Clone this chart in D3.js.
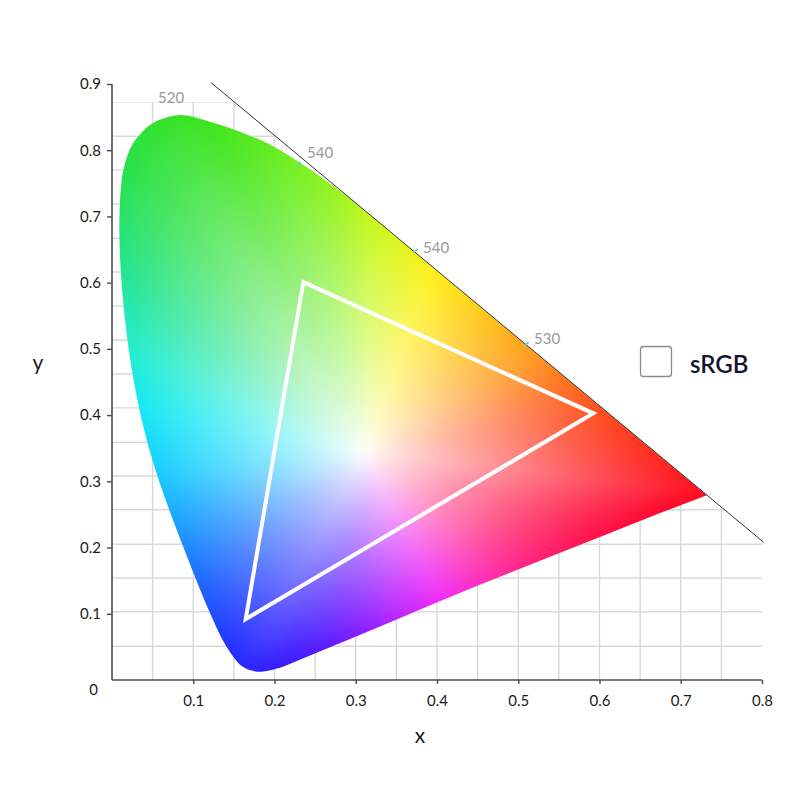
<!DOCTYPE html>
<html>
<head>
<meta charset="utf-8">
<script src="https://cdn.jsdelivr.net/npm/d3@7"></script>
<style>
  html, body { margin: 0; padding: 0; background: #fff; }
  svg { display: block; font-family: Lato, "Noto Sans", sans-serif; }
</style>
</head>
<body>
<svg id="chart" width="800" height="800"></svg>
<script>
// ---------- data ----------
const xTicks = [0.1, 0.2, 0.3, 0.4, 0.5, 0.6, 0.7, 0.8];
const yTicks = [0.1, 0.2, 0.3, 0.4, 0.5, 0.6, 0.7, 0.8, 0.9];
const xTickLabels = ["0.1", "0.2", "0.3", "0.4", "0.5", "0.6", "0.7", "0.8"];
const yTickLabels = ["0.1", "0.2", "0.3", "0.4", "0.5", "0.6", "0.7", "0.8", "0.9"];

// background grid (vertical at x, horizontal at y)
const gridX = [0.05, 0.1, 0.15, 0.2, 0.25, 0.3, 0.35, 0.4, 0.45, 0.5, 0.55, 0.6, 0.65, 0.7, 0.75];
const gridY = [0.051, 0.103, 0.154, 0.205, 0.257, 0.308, 0.359, 0.411, 0.462, 0.513,
               0.565, 0.616, 0.667, 0.719, 0.770, 0.821, 0.873];

// spectral locus: curved arc (bottom -> left side -> top -> meeting the diagonal)
const locusArcX = [0.2105, 0.182, 0.1616, 0.1412, 0.1210, 0.1040, 0.0880, 0.0725, 0.0580, 0.0455,
                   0.0352, 0.0270, 0.0205, 0.0155, 0.0118, 0.0095, 0.0092, 0.0115, 0.0160, 0.0258,
                   0.0468, 0.0652, 0.0858, 0.1206, 0.1575, 0.1982, 0.2314, 0.2600, 0.2889, 0.3175];
const locusArcY = [0.0201, 0.0125, 0.0196, 0.0500, 0.1000, 0.1500, 0.2000, 0.2500, 0.3000, 0.3500,
                   0.4000, 0.4500, 0.5000, 0.5500, 0.6000, 0.6500, 0.7000, 0.7500, 0.7800, 0.8100,
                   0.8381, 0.8487, 0.8532, 0.8431, 0.8280, 0.8060, 0.7810, 0.7570, 0.7310, 0.7025];
// straight edge to the red end, then the purple line back to the start
const locusEdgeX = [0.732, 0.6745, 0.6006, 0.5391, 0.5022, 0.4489, 0.3996, 0.3504, 0.3012, 0.2519];
const locusEdgeY = [0.279, 0.2520, 0.2160, 0.1860, 0.1680, 0.1420, 0.1170, 0.0915, 0.0660, 0.0410];

// white point of the colour fill
const whiteX = 0.311, whiteY = 0.340;
// boundary colour by direction from the white point (degrees, counter-clockwise from +x)
const hueAngles = [0, 12, 30, 50, 70, 88, 102, 115, 128, 142, 155, 168, 185, 200, 218, 235,
                   248, 262, 280, 298, 315, 330, 342, 352, 360];
const hueColors = ["#ff2a1c", "#ff521e", "#ff981c", "#ffc81a", "#fff01c", "#c8f81c", "#7af020",
                   "#3ce41a", "#28e040", "#22e48c", "#22eccc", "#16e8f4", "#18ccff", "#1aa0ff",
                   "#1c66ff", "#2030ff", "#3418ff", "#6a18ff", "#b424ff", "#f02cf6", "#ff2cb0",
                   "#ff1c70", "#ff0c44", "#ff0622", "#ff2a1c"];

// diagonal reference line
const diagX = [0.122, 0.802];
const diagY = [0.902, 0.208];

// "sRGB" triangle
const srgbX = [0.2355, 0.5924, 0.1646];
const srgbY = [0.6009, 0.4027, 0.0921];

// wavelength labels and their marks on the diagonal
const wlLabels = ["520", "540", "540", "530"];
const wlLabelX = [0.0566, 0.240, 0.3828, 0.5194];
const wlLabelY = [0.871, 0.788, 0.6448, 0.5074];
const wlMarkX = [0.2314, 0.375, 0.5116];
const wlMarkY = [0.7804, 0.6493, 0.5084];

const legendLabel = "sRGB";

// ---------- scales ----------
const svg = d3.select("#chart");
const x = d3.scaleLinear().domain([0, 0.8]).range([112, 762]);
const y = d3.scaleLinear().domain([0, 0.9]).range([680, 84]);

const defs = svg.append("defs");

// grid clip: below the diagonal line
const slope = (diagY[1] - diagY[0]) / (diagX[1] - diagX[0]);
const topY = d3.max(gridY);
const xAtTop = diagX[0] + (topY - diagY[0]) / slope;
const gridClip = [[0, 0], [diagX[1], 0], [diagX[1], diagY[1]], [xAtTop, topY], [0, topY]];
defs.append("clipPath").attr("id", "gridclip")
  .append("path")
  .attr("d", d3.line().x(d => x(d[0])).y(d => y(d[1]))(gridClip) + "Z");

const gridG = svg.append("g").attr("clip-path", "url(#gridclip)")
  .attr("stroke", "#d9d9d9").attr("stroke-width", 1.4);
gridG.selectAll("line.v").data(gridX).join("line").attr("class", "v")
  .attr("x1", d => x(d)).attr("x2", d => x(d))
  .attr("y1", y(0)).attr("y2", y(topY));
gridG.selectAll("line.h").data(gridY).join("line").attr("class", "h")
  .attr("x1", x(0)).attr("x2", x(0.8))
  .attr("y1", d => y(d)).attr("y2", d => y(d));

// ---------- gamut outline ----------
const arcPts = locusArcX.map((v, i) => [v, locusArcY[i]]);
const edgePts = locusEdgeX.map((v, i) => [v, locusEdgeY[i]]);
const arcPath = d3.line().x(d => x(d[0])).y(d => y(d[1])).curve(d3.curveCatmullRom.alpha(0.5))(arcPts);
const edgePath = edgePts.map(d => "L" + x(d[0]) + "," + y(d[1])).join("");
const locusD = arcPath + edgePath + "Z";
const clipPathEl = defs.append("clipPath").attr("id", "locusclip").append("path").attr("d", locusD);

// ---------- colour fill ----------
const Wx = x(whiteX), Wy = y(whiteY);
const NB = 720;
const bound = new Array(NB).fill(-1);
const pathNode = clipPathEl.node();
const L = pathNode.getTotalLength();
for (let k = 0; k < 4000; k++) {
  const p = pathNode.getPointAtLength(L * k / 4000);
  let a = Math.atan2(-(p.y - Wy), p.x - Wx) * 180 / Math.PI;
  if (a < 0) a += 360;
  const bi = Math.floor(a / 360 * NB) % NB;
  const dist = Math.hypot(p.x - Wx, p.y - Wy);
  if (dist > bound[bi]) bound[bi] = dist;
}
for (let i = 0; i < NB; i++) {
  if (bound[i] < 0) {
    let a = i, b = i;
    while (bound[(a + NB) % NB] < 0) a--;
    while (bound[b % NB] < 0) b++;
    const t = (i - a) / (b - a);
    bound[i] = bound[(a + NB) % NB] * (1 - t) + bound[b % NB] * t;
  }
}
const hueScale = d3.scaleLinear().domain(hueAngles).range(hueColors).interpolate(d3.interpolateRgb);
const hueTable = d3.range(NB).map(i => d3.rgb(hueScale((i + 0.5) * 360 / NB)));

const PAD = 24;
const x0 = Math.floor(x(0)) - PAD, x1 = Math.ceil(x(0.8)) + PAD;
const y0 = Math.floor(y(0.9)) - PAD, y1 = Math.ceil(y(0)) + PAD;
const W = x1 - x0, H = y1 - y0;
const raw = document.createElement("canvas");
raw.width = W; raw.height = H;
const rctx = raw.getContext("2d");
const img = rctx.createImageData(W, H);
for (let j = 0; j < H; j++) {
  const py = y0 + j + 0.5;
  for (let i = 0; i < W; i++) {
    const px = x0 + i + 0.5;
    let a = Math.atan2(-(py - Wy), px - Wx) * 180 / Math.PI;
    if (a < 0) a += 360;
    const fb = a / 360 * NB - 0.5;
    const b0 = ((Math.floor(fb) % NB) + NB) % NB, b1 = (b0 + 1) % NB;
    const t = fb - Math.floor(fb);
    const dB = bound[b0] * (1 - t) + bound[b1] * t;
    const s = Math.min(1, Math.hypot(px - Wx, py - Wy) / dB);
    const f = Math.pow(s, 0.85);
    const c0 = hueTable[b0], c1 = hueTable[b1];
    const hr = c0.r * (1 - t) + c1.r * t, hg = c0.g * (1 - t) + c1.g * t, hb = c0.b * (1 - t) + c1.b * t;
    const k = (j * W + i) * 4;
    img.data[k] = Math.round(255 * (1 - f) + hr * f);
    img.data[k + 1] = Math.round(255 * (1 - f) + hg * f);
    img.data[k + 2] = Math.round(255 * (1 - f) + hb * f);
    img.data[k + 3] = 255;
  }
}
rctx.putImageData(img, 0, 0);
const canvas = document.createElement("canvas");
canvas.width = W; canvas.height = H;
const ctx = canvas.getContext("2d");
ctx.filter = "blur(6px)";
ctx.drawImage(raw, 0, 0);
svg.append("image")
  .attr("href", canvas.toDataURL())
  .attr("x", x0).attr("y", y0).attr("width", W).attr("height", H)
  .attr("clip-path", "url(#locusclip)");

// ---------- diagonal line ----------
svg.append("line")
  .attr("x1", x(diagX[0])).attr("y1", y(diagY[0]))
  .attr("x2", x(diagX[1])).attr("y2", y(diagY[1]))
  .attr("stroke", "#333").attr("stroke-width", 1);

// wavelength marks
svg.selectAll("line.wl").data(wlMarkX).join("line").attr("class", "wl")
  .attr("x1", (d, i) => x(d) - 3).attr("y1", (d, i) => y(wlMarkY[i]) + 2)
  .attr("x2", (d, i) => x(d) + 1).attr("y2", (d, i) => y(wlMarkY[i]) - 1)
  .attr("stroke", "#3fd6f0").attr("stroke-width", 1.5);

svg.selectAll("text.wl").data(wlLabels).join("text").attr("class", "wl")
  .attr("x", (d, i) => x(wlLabelX[i])).attr("y", (d, i) => y(wlLabelY[i]))
  .attr("font-size", 15).attr("fill", "#999").text(d => d);

// ---------- sRGB triangle ----------
const triPts = srgbX.map((v, i) => [v, srgbY[i]]);
svg.append("path")
  .attr("d", d3.line().x(d => x(d[0])).y(d => y(d[1]))(triPts) + "Z")
  .attr("fill", "none").attr("stroke", "#fff").attr("stroke-width", 4)
  .attr("stroke-linejoin", "miter");

// ---------- axes ----------
const axisColor = "#4a4a55";
const yAxis = svg.append("g").attr("transform", `translate(${x(0)},0)`)
  .call(d3.axisLeft(y).tickValues(yTicks).tickFormat((d, i) => yTickLabels[i]).tickSize(5).tickPadding(6));
const xAxis = svg.append("g").attr("transform", `translate(0,${y(0)})`)
  .call(d3.axisBottom(x).tickValues(xTicks).tickFormat((d, i) => xTickLabels[i]).tickSize(4).tickPadding(11));
[xAxis, yAxis].forEach(a => {
  a.select(".domain").attr("stroke", axisColor).attr("stroke-width", 1.6);
  a.selectAll(".tick line").attr("stroke", axisColor).attr("stroke-width", 1.4);
  a.selectAll(".tick text").attr("fill", "#1a1a1a").attr("font-size", 15)
    .attr("font-family", "Lato, 'Noto Sans', sans-serif");
});
yAxis.select(".domain").attr("d", `M0,${y(0)}V${y(0.9)}`);
xAxis.select(".domain").attr("d", `M${x(0)},0H${x(0.8)}`);

// origin label
svg.append("text").attr("x", x(0) - 14).attr("y", y(0) + 15)
  .attr("text-anchor", "end").attr("font-size", 15).attr("fill", "#1a1a1a").text("0");

// axis titles
svg.append("text").attr("x", x(0.379)).attr("y", 743)
  .attr("text-anchor", "middle").attr("font-size", 21).attr("fill", "#1a1a1a").text("x");
svg.append("text").attr("x", 38).attr("y", 370)
  .attr("text-anchor", "middle").attr("font-size", 21).attr("fill", "#1a1a1a").text("y");

// ---------- legend ----------
const lg = svg.append("g").attr("transform", "translate(640,346)");
lg.append("rect").attr("x", 0.5).attr("y", 0.5).attr("width", 31).attr("height", 30)
  .attr("rx", 3).attr("fill", "#fff").attr("stroke", "#8a8a8a").attr("stroke-width", 1.3);
lg.append("text").attr("x", 50).attr("y", 27).attr("font-size", 24).attr("font-weight", 600)
  .attr("fill", "#141430").text(legendLabel);
</script>
</body>
</html>
